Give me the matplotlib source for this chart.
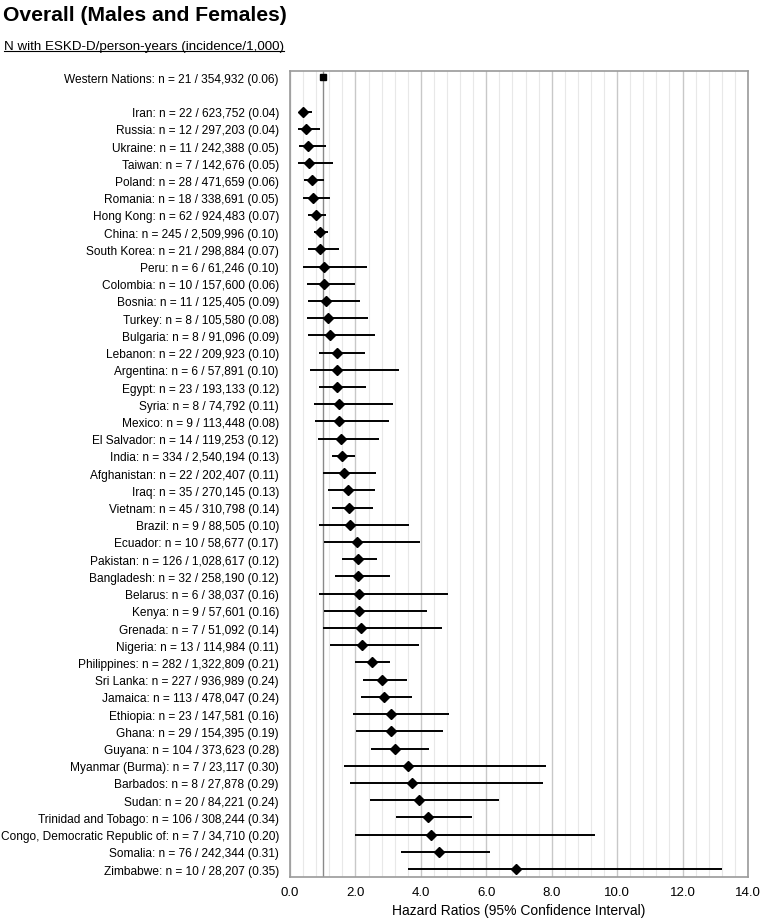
import numpy as np
import matplotlib
matplotlib.use("Agg")
import matplotlib.pyplot as plt
from matplotlib.ticker import MultipleLocator

plt.rcParams['font.family'] = ['Liberation Sans', 'DejaVu Sans']

# reference group
ref_name = "Western Nations"
ref_n, ref_py, ref_inc = 21, "354,932", "0.06"
ref_hr = 1.0

countries = ["Iran", "Russia", "Ukraine", "Taiwan", "Poland", "Romania", "Hong Kong",
             "China", "South Korea", "Peru", "Colombia", "Bosnia", "Turkey", "Bulgaria",
             "Lebanon", "Argentina", "Egypt", "Syria", "Mexico", "El Salvador", "India",
             "Afghanistan", "Iraq", "Vietnam", "Brazil", "Ecuador", "Pakistan",
             "Bangladesh", "Belarus", "Kenya", "Grenada", "Nigeria", "Philippines",
             "Sri Lanka", "Jamaica", "Ethiopia", "Ghana", "Guyana", "Myanmar (Burma)",
             "Barbados", "Sudan", "Trinidad and Tobago", "Congo, Democratic Republic of",
             "Somalia", "Zimbabwe"]
n_cases = [22, 12, 11, 7, 28, 18, 62, 245, 21, 6, 10, 11, 8, 8, 22, 6, 23, 8, 9, 14,
           334, 22, 35, 45, 9, 10, 126, 32, 6, 9, 7, 13, 282, 227, 113, 23, 29, 104,
           7, 8, 20, 106, 7, 76, 10]
person_years = ["623,752", "297,203", "242,388", "142,676", "471,659", "338,691",
                "924,483", "2,509,996", "298,884", "61,246", "157,600", "125,405",
                "105,580", "91,096", "209,923", "57,891", "193,133", "74,792", "113,448",
                "119,253", "2,540,194", "202,407", "270,145", "310,798", "88,505",
                "58,677", "1,028,617", "258,190", "38,037", "57,601", "51,092",
                "114,984", "1,322,809", "936,989", "478,047", "147,581", "154,395",
                "373,623", "23,117", "27,878", "84,221", "308,244", "34,710",
                "242,344", "28,207"]
incidence = ["0.04", "0.04", "0.05", "0.05", "0.06", "0.05", "0.07", "0.10", "0.07",
             "0.10", "0.06", "0.09", "0.08", "0.09", "0.10", "0.10", "0.12", "0.11",
             "0.08", "0.12", "0.13", "0.11", "0.13", "0.14", "0.10", "0.17", "0.12",
             "0.12", "0.16", "0.16", "0.14", "0.11", "0.21", "0.24", "0.24", "0.16",
             "0.19", "0.28", "0.30", "0.29", "0.24", "0.34", "0.20", "0.31", "0.35"]
hr = [0.41, 0.50, 0.55, 0.58, 0.66, 0.69, 0.79, 0.91, 0.91, 1.04, 1.04, 1.11, 1.15,
      1.22, 1.43, 1.43, 1.43, 1.51, 1.51, 1.55, 1.60, 1.64, 1.76, 1.80, 1.84, 2.04,
      2.08, 2.08, 2.12, 2.12, 2.16, 2.21, 2.50, 2.82, 2.86, 3.10, 3.10, 3.21, 3.62,
      3.74, 3.95, 4.23, 4.32, 4.55, 6.90]
ci_low = [0.26, 0.24, 0.28, 0.24, 0.44, 0.40, 0.56, 0.72, 0.56, 0.40, 0.53, 0.56, 0.53,
          0.56, 0.89, 0.61, 0.89, 0.72, 0.77, 0.86, 1.27, 1.00, 1.17, 1.27, 0.89, 1.04,
          1.58, 1.38, 0.89, 1.04, 1.00, 1.21, 1.99, 2.22, 2.18, 1.94, 2.02, 2.47, 1.66,
          1.83, 2.43, 3.23, 1.99, 3.40, 3.60]
ci_high = [0.68, 0.92, 1.09, 1.30, 1.05, 1.21, 1.09, 1.17, 1.50, 2.35, 1.99, 2.14, 2.39,
           2.60, 2.28, 3.32, 2.32, 3.16, 3.03, 2.71, 1.99, 2.62, 2.59, 2.55, 3.64, 3.97,
           2.67, 3.07, 4.83, 4.20, 4.66, 3.93, 3.07, 3.57, 3.72, 4.86, 4.69, 4.24, 7.83,
           7.73, 6.40, 5.55, 9.32, 6.11, 13.21]

labels = [f"{c}: n = {n} / {p} ({i})" for c, n, p, i in zip(countries, n_cases, person_years, incidence)]
ref_label = f"{ref_name}: n = {ref_n} / {ref_py} ({ref_inc})"

ypos = np.arange(len(countries)) + 2

fig = plt.figure(figsize=(7.6, 9.2), dpi=100)
ax = fig.add_axes([0.3816, 0.0453, 0.6026, 0.8768])

ax.xaxis.set_major_locator(MultipleLocator(2))
ax.xaxis.set_minor_locator(MultipleLocator(0.4))
ax.grid(which='major', axis='x', color='#c8c8c8', lw=1.0, zorder=0)
ax.grid(which='minor', axis='x', color='#e8e8e8', lw=0.8, zorder=0)
ax.axvline(1.0, color='#8a8a8a', lw=1.0, zorder=1)

ax.hlines(ypos, ci_low, ci_high, color='black', lw=1.4, zorder=3)
ax.plot(hr, ypos, 'D', color='black', ms=5.2, zorder=4)
ax.plot([ref_hr], [0], 's', color='black', ms=5, zorder=4)

ax.set_xlim(0, 14)
ax.set_ylim(46.48, -0.38)
ax.set_yticks(np.concatenate([[0], ypos]))
ax.set_yticklabels([ref_label] + labels, fontsize=8.55)
ax.tick_params(axis='y', length=0, pad=8)
ax.tick_params(axis='x', which='both', length=0, labelsize=9.5, pad=6)
ax.set_xticks(np.arange(0, 15, 2))
ax.set_xticklabels([f"{v:.1f}" for v in np.arange(0, 15, 2)])
ax.set_xlabel("Hazard Ratios (95% Confidence Interval)", fontsize=10, labelpad=4)
for s in ax.spines.values():
    s.set_color('#9a9a9a')
    s.set_linewidth(1.2)

fig.text(0.004, 0.994, "Overall (Males and Females)", fontsize=15.2, fontweight='bold', va='top', ha='left')
sub = fig.text(0.005, 0.949, "N with ESKD-D/person-years (incidence/1,000)", fontsize=9.6, va='center', ha='left')
fig.canvas.draw()
bb = sub.get_window_extent()
inv = fig.transFigure.inverted()
(x0, y0), (x1, y1) = inv.transform([[bb.x0, bb.y0], [bb.x1, bb.y1]])
fig.add_artist(plt.Line2D([x0, x1], [y0 + 0.001, y0 + 0.001], color='black', lw=0.8, transform=fig.transFigure))

fig.savefig("out.png", dpi=100)
